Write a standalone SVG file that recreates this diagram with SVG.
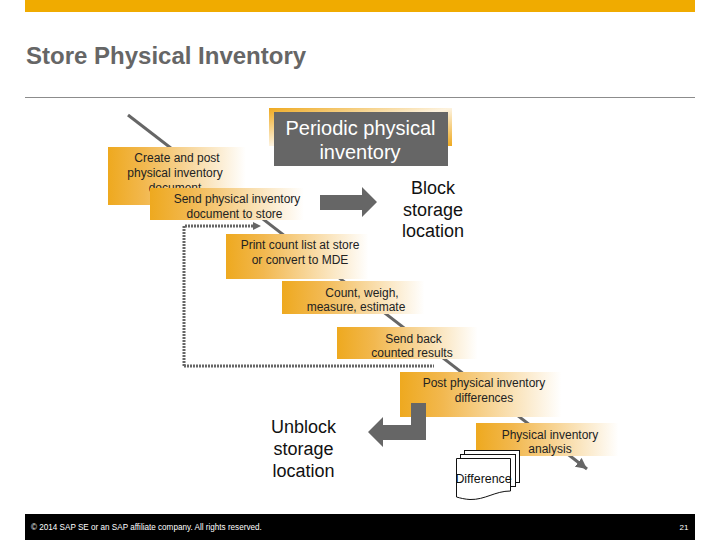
<svg xmlns="http://www.w3.org/2000/svg" width="720" height="540" viewBox="0 0 720 540">
<style>
text{font-family:"Liberation Sans",Arial,sans-serif;text-anchor:middle}
.s{font-size:12px;fill:#222}
.b{font-size:18px;fill:#111}
.box{fill:url(#g)}
.block{fill:#666}
</style>
<defs>
<linearGradient id="g" x1="0" y1="0" x2="1" y2="0"><stop offset="0" stop-color="#eea91f"/><stop offset="0.25" stop-color="#f2b84f"/><stop offset="0.95" stop-color="#fff"/><stop offset="1" stop-color="#fff"/></linearGradient>
<linearGradient id="g2" x1="0" y1="0" x2="1" y2="1"><stop offset="0" stop-color="#eea91f"/><stop offset="0.5" stop-color="#fdf3e0"/><stop offset="1" stop-color="#eea91f"/></linearGradient>
<marker id="tip" markerUnits="userSpaceOnUse" markerWidth="12" markerHeight="12" refX="11" refY="6" orient="auto"><path d="M0 0.500L11 6L0 11.500z" fill="#666"/></marker>
</defs>
<rect x="25" y="0" width="670" height="12" fill="#f0ab00"/>
<text x="26" y="64" style="text-anchor:start;font-size:24px;font-weight:bold" fill="#666">Store Physical Inventory</text>
<line x1="25" y1="97.500" x2="695" y2="97.500" stroke="#8c8c8c"/>
<g id="connectors">
<line x1="128" y1="115" x2="587" y2="469" stroke="#666" stroke-width="3" marker-end="url(#tip)"/>
<path d="M184 366V226H254" fill="none" stroke="#666" stroke-width="3" stroke-dasharray="2 1"/>
<path d="M253 222L261 226L253 230z" fill="#666"/>
<path d="M184 366H434" fill="none" stroke="#666" stroke-width="3" stroke-dasharray="2 1"/>
</g>
<g id="periodic">
<path d="M269 108H452V146H269z" fill="url(#g2)"/>
<rect x="274" y="112" width="174" height="54" class="block"/>
<text x="360.500" y="135" fill="#fff" style="font-size:20px">Periodic physical</text>
<text x="360" y="159" fill="#fff" style="font-size:20px">inventory</text>
</g>
<g id="n1"><rect x="108" y="147" width="145" height="58" class="box"/>
<text class="s" x="177" y="162">Create and post</text><text class="s" x="175" y="177">physical inventory</text><text class="s" x="175" y="192">document</text></g>
<g id="n2"><rect x="150" y="188" width="162" height="32" class="box"/>
<text class="s" x="237" y="203">Send physical inventory</text><text class="s" x="234.500" y="218">document to store</text></g>
<g id="n3"><rect x="226" y="234" width="150" height="45" class="box"/>
<text class="s" x="300" y="249">Print count list at store</text><text class="s" x="300" y="264">or convert to MDE</text></g>
<g id="n4"><rect x="282" y="281" width="150" height="33" class="box"/>
<text class="s" x="362" y="297">Count, weigh,</text><text class="s" x="356" y="311">measure, estimate</text></g>
<g id="n5"><rect x="337" y="327" width="148" height="32" class="box"/>
<text class="s" x="413.500" y="343">Send back</text><text class="s" x="412" y="357">counted results</text></g>
<g id="n6"><rect x="400" y="372" width="170" height="45" class="box"/>
<text class="s" x="484" y="387">Post physical inventory</text><text class="s" x="484" y="402">differences</text></g>
<g id="n7"><rect x="476" y="423" width="150" height="33" class="box"/>
<text class="s" x="550" y="439">Physical inventory</text><text class="s" x="550" y="453">analysis</text></g>
<g id="block-arrow"><path class="block" d="M320 195H362V187L377 202L362 217V210H320z"/></g>
<g id="block-label"><text class="b" x="433" y="194">Block</text><text class="b" x="433" y="216">storage</text><text class="b" x="433" y="237">location</text></g>
<g id="unblock-arrow"><path class="block" d="M411 403H426V440H383V447L368 432L383 417V425H411z"/></g>
<g id="unblock-label"><text class="b" x="303.500" y="433">Unblock</text><text class="b" x="303.500" y="455">storage</text><text class="b" x="303.500" y="477">location</text></g>
<g id="difference" fill="#fff" stroke="#111" stroke-width="1">
<rect x="464.500" y="450.500" width="55" height="32"/>
<rect x="460.500" y="454.500" width="55" height="32"/>
<path d="M456.500 458.500H510.500V491C495 491 485 500 470 499.500C465 499.300 460 498 456.500 497z"/>
<text x="483.500" y="483" stroke="none" fill="#111" style="font-size:12.400px">Difference</text>
</g>
<rect x="25" y="514" width="670" height="26" fill="#000"/>
<text x="31" y="530" fill="#fff" style="text-anchor:start;font-size:8.150px">© 2014 SAP SE or an SAP affiliate company. All rights reserved.</text>
<text x="684" y="530" fill="#fff" style="font-size:8px">21</text>
</svg>
